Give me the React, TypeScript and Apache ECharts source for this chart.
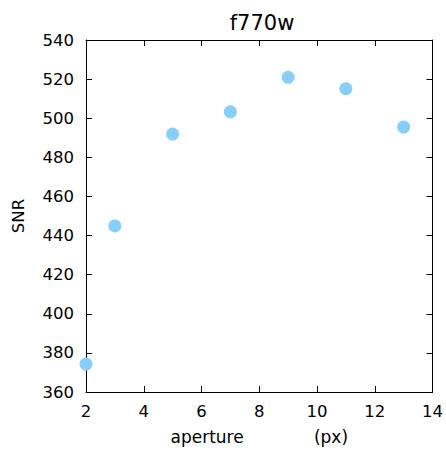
import React, { useEffect, useRef } from "react";
import * as echarts from "echarts";

const apertures = [2, 3, 5, 7, 9, 11, 13];
const snr = [374.3, 444.9, 491.9, 503.3, 520.9, 515.1, 495.5];
const xTicks = { min: 2, max: 14, interval: 2 };
const yTicks = { min: 360, max: 540, interval: 20 };

export default function App() {
  const ref = useRef<HTMLDivElement>(null);
  useEffect(() => {
    if (!ref.current) return;
    const chart = echarts.init(ref.current, undefined, { renderer: "svg" });
    const font = "DejaVu Sans";
    const lineStyle = { color: "#000", width: 1 };
    const tick = { show: true, inside: true, length: 6, lineStyle };
    chart.setOption({
      animation: false,
      backgroundColor: "#fff",
      title: {
        text: "f770w",
        left: 257,
        textAlign: "center",
        top: 7,
        textStyle: { fontFamily: font, fontSize: 21, fontWeight: "normal", color: "#000" },
      },
      grid: { left: 86, right: 12, top: 40, bottom: 60 },
      xAxis: [
        {
          type: "value",
          ...xTicks,
          position: "bottom",
          name: "aperture             (px)",
          nameLocation: "middle",
          nameGap: 36,
          nameTextStyle: { fontFamily: font, fontSize: 17, color: "#000" },
          axisLine: { show: true, lineStyle },
          axisTick: tick,
          axisLabel: { fontFamily: font, fontSize: 16.5, color: "#000", margin: 11 },
          splitLine: { show: false },
        },
        {
          type: "value",
          ...xTicks,
          position: "top",
          axisLine: { show: true, lineStyle },
          axisTick: tick,
          axisLabel: { show: false },
          splitLine: { show: false },
        },
      ],
      yAxis: [
        {
          type: "value",
          ...yTicks,
          position: "left",
          name: "SNR",
          nameLocation: "middle",
          nameGap: 59,
          nameTextStyle: { fontFamily: font, fontSize: 16.5, color: "#000" },
          axisLine: { show: true, lineStyle },
          axisTick: tick,
          axisLabel: { fontFamily: font, fontSize: 16.5, color: "#000", margin: 12 },
          splitLine: { show: false },
        },
        {
          type: "value",
          ...yTicks,
          position: "right",
          axisLine: { show: true, lineStyle },
          axisTick: tick,
          axisLabel: { show: false },
          splitLine: { show: false },
        },
      ],
      series: [
        {
          type: "scatter",
          xAxisIndex: 0,
          yAxisIndex: 0,
          data: apertures.map((a, i) => [a, snr[i]]),
          symbolSize: 13,
          itemStyle: { color: "#87cefa", opacity: 1 },
          clip: false,
        },
      ],
    });
    return () => chart.dispose();
  }, []);
  return (
    <div
      ref={ref}
      style={{ position: "absolute", left: 0, top: 0, width: 446, height: 452 }}
    />
  );
}
